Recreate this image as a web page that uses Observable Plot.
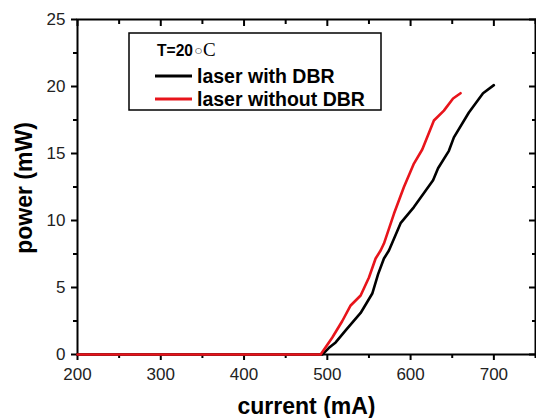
<!DOCTYPE html>
<html>
<head>
<meta charset="utf-8">
<script src="https://cdn.jsdelivr.net/npm/d3@7"></script>
<script src="https://cdn.jsdelivr.net/npm/@observablehq/plot@0.6"></script>
<style>
  html, body { margin: 0; padding: 0; background: #fff; }
  svg { display: block; }
</style>
</head>
<body>
<div id="chart"></div>
<script>
// Data
const withDbrCurrent = [200, 490, 494, 502, 510, 522, 540, 554, 561, 568, 574, 588, 604, 627, 633, 646, 652, 670, 687, 700];
const withDbrPower   = [0, 0, 0, 0.5, 0.9, 1.8, 3.1, 4.55, 6.0, 7.16, 7.76, 9.8, 11.0, 13.0, 13.9, 15.2, 16.2, 18.06, 19.5, 20.1];
const withoutDbrCurrent = [200, 490, 492, 506, 518, 528, 540, 550, 558, 564, 568, 580, 592, 604, 614, 628, 640, 651, 660];
const withoutDbrPower   = [0, 0, 0, 1.27, 2.5, 3.66, 4.4, 5.75, 7.16, 7.76, 8.28, 10.5, 12.5, 14.25, 15.3, 17.46, 18.2, 19.1, 19.5];

const xMajorTicks = [200, 300, 400, 500, 600, 700];
const xMinorTicks = [250, 350, 450, 550, 650, 750];
const yMajorTicks = [0, 5, 10, 15, 20, 25];
const yMinorTicks = [2.5, 7.5, 12.5, 17.5, 22.5];

const seriesNames = ["laser with DBR", "laser without DBR"];
const seriesColors = ["#000000", "#e8141b"];
const legendTitle = "T=20";

const withDbr = withDbrCurrent.map((c, i) => ({current: c, power: withDbrPower[i]}));
const withoutDbr = withoutDbrCurrent.map((c, i) => ({current: c, power: withoutDbrPower[i]}));

const font = "'Liberation Sans', Arial, sans-serif";
const blank = () => "";

const svg = Plot.plot({
  width: 536,
  height: 418,
  marginLeft: 77,
  marginRight: 1,
  marginTop: 19,
  marginBottom: 64,
  style: {fontFamily: font, fontSize: "17px", color: "#000"},
  x: {domain: [200, 750]},
  y: {domain: [0, 25]},
  marks: [
    Plot.frame({stroke: "#000", strokeWidth: 2}),
    // bottom axis
    Plot.axisX(xMajorTicks, {anchor: "bottom", tickSize: 6, tickPadding: 7, strokeWidth: 2, label: null, fill: "#222"}),
    Plot.axisX(xMinorTicks, {anchor: "bottom", tickSize: 4, tickFormat: blank, strokeWidth: 2, label: null}),
    // top mirrored ticks (inward)
    Plot.axisX(xMajorTicks, {anchor: "top", tickSize: -6, tickFormat: blank, strokeWidth: 2, label: null}),
    Plot.axisX(xMinorTicks, {anchor: "top", tickSize: -4, tickFormat: blank, strokeWidth: 2, label: null}),
    // left axis
    Plot.axisY(yMajorTicks, {anchor: "left", tickSize: 6, tickPadding: 6, strokeWidth: 2, label: null, fill: "#222"}),
    Plot.axisY(yMinorTicks, {anchor: "left", tickSize: 4, tickFormat: blank, strokeWidth: 2, label: null}),
    // right mirrored ticks (inward)
    Plot.axisY(yMajorTicks, {anchor: "right", tickSize: -7, tickFormat: blank, strokeWidth: 2, label: null}),
    Plot.axisY(yMinorTicks, {anchor: "right", tickSize: -4, tickFormat: blank, strokeWidth: 2, label: null}),
    // series
    Plot.line(withDbr, {x: "current", y: "power", stroke: seriesColors[0], strokeWidth: 2.6}),
    Plot.line(withoutDbr, {x: "current", y: "power", stroke: seriesColors[1], strokeWidth: 2.6}),
    // axis titles
    Plot.text(["current (mA)"], {frameAnchor: "bottom", textAnchor: "middle", lineAnchor: "bottom", dy: 59,
      fontSize: 23, fontWeight: "bold", fill: "#000"}),
    Plot.text(["power (mW)"], {frameAnchor: "left", textAnchor: "middle", lineAnchor: "middle", rotate: -90, dx: -53, dy: 1,
      fontSize: 23, fontWeight: "bold", fill: "#000"})
  ]
});

// Legend box drawn inside the SVG
const g = d3.select(svg).append("g").attr("text-anchor", "start");
g.append("rect").attr("x", 129).attr("y", 33).attr("width", 252).attr("height", 77)
  .attr("fill", "#fff").attr("stroke", "#000").attr("stroke-width", 1.5);
const t = g.append("text").attr("x", 157).attr("y", 56).attr("fill", "#000").attr("text-anchor", "start");
t.append("tspan").attr("font-family", font).attr("font-weight", "bold").attr("font-size", 17)
  .attr("textLength", 36).attr("lengthAdjust", "spacingAndGlyphs").text(legendTitle);
t.append("tspan").attr("font-family", "'DejaVu Sans', sans-serif").attr("font-size", 8).attr("dx", 2).attr("dy", -3).text("○");
t.append("tspan").attr("font-family", "'Liberation Serif', 'Times New Roman', serif").attr("font-size", 19).attr("dx", 1).attr("dy", 3).text("C");

seriesNames.forEach((name, i) => {
  const cy = 76 + i * 23;
  g.append("line").attr("x1", 155).attr("x2", 192).attr("y1", cy).attr("y2", cy)
    .attr("stroke", seriesColors[i]).attr("stroke-width", 3);
  g.append("text").attr("x", 197).attr("y", cy + 6.5).attr("font-family", font).attr("font-weight", "bold")
    .attr("font-size", 19.5).attr("fill", "#000").attr("text-anchor", "start").text(name);
});

document.getElementById("chart").appendChild(svg);
</script>
</body>
</html>
